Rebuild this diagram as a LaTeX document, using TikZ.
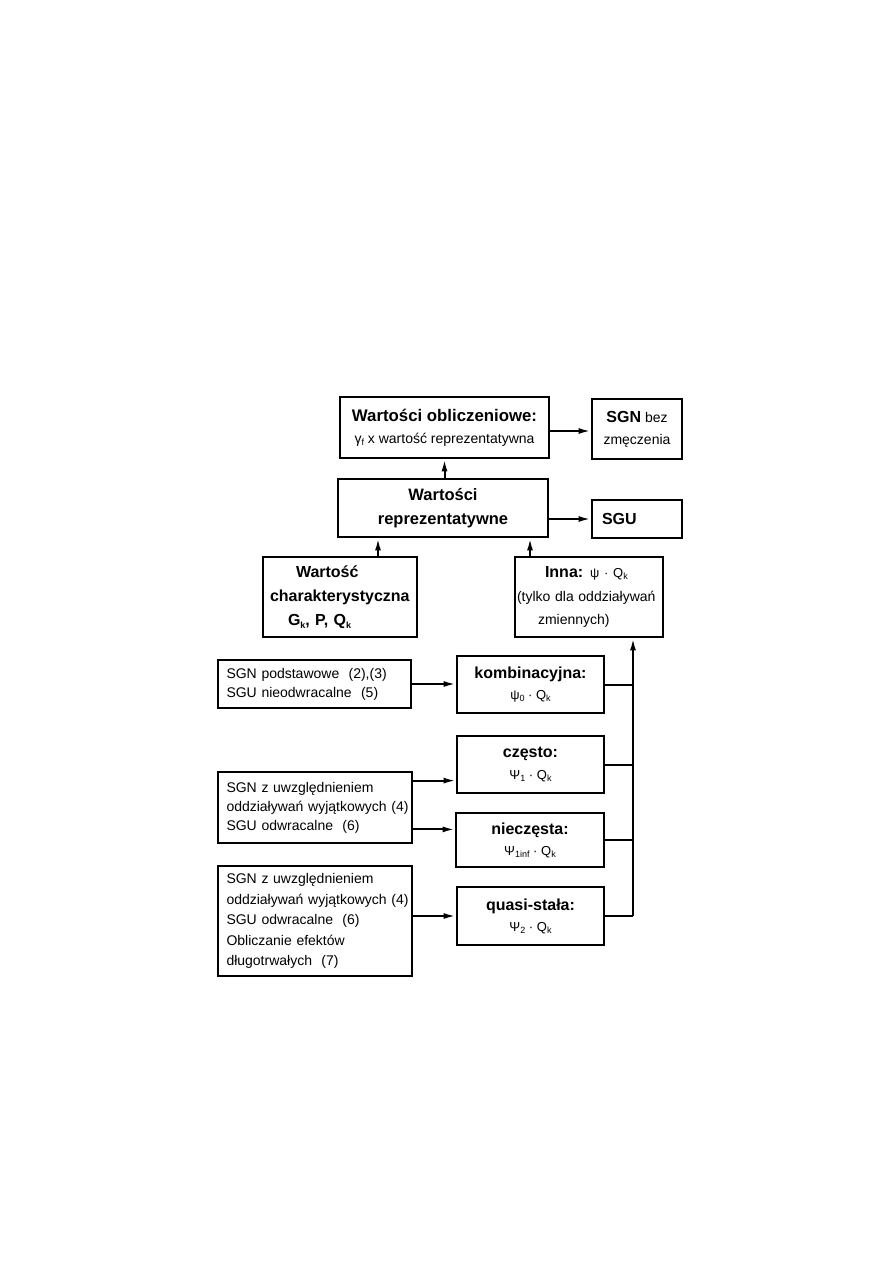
\documentclass[tikz,border=0pt]{standalone}
\usepackage{fontspec}
\setmainfont{Liberation Sans}
\usetikzlibrary{arrows.meta,calc}
\newcommand\hdfont{\bfseries\fontsize{16}{22}\selectfont}
\newcommand\lowidx[1]{\raisebox{-0.35ex}{\fontsize{9}{9}\selectfont #1}}
\newcommand\ind[1]{\hspace*{8pt}\mbox{#1}}
\tikzset{
  box/.style={draw, line width=2.8pt, inner sep=0pt},
  conn/.style={line width=2pt},
  arr/.style={conn, -{Latex[length=12pt,width=6pt]}},
}
\begin{document}
\begin{tikzpicture}[x=1pt,y=-1pt]
\useasboundingbox[fill=white] (0,0) rectangle (893,1263);
% top row
\node[box, minimum width=209pt, minimum height=61pt, align=center, font=\fontsize{14}{22}\selectfont] (A) at (444.5,427.5)
  {{\bfseries\fontsize{16.8}{22}\selectfont Wartości obliczeniowe:}\\γ\lowidx{f} x wartość reprezentatywna};
\node[box, minimum width=90pt, minimum height=60pt, align=center, font=\fontsize{14}{22}\selectfont] (SGN) at (637,429)
  {{\hdfont SGN} bez\\zmęczenia};
\node[box, minimum width=210pt, minimum height=58pt, align=center, font=\bfseries\fontsize{16.5}{24}\selectfont] (B) at (443,508)
  {Wartości\\reprezentatywne};
\node[box, minimum width=90pt, minimum height=38pt, text width=70pt, inner xsep=10pt, align=left, font=\bfseries\fontsize{16}{20}\selectfont] (SGU) at (637,519)
  {SGU};
\node[box, minimum width=154pt, minimum height=80pt, text width=140pt, inner xsep=7pt, align=left, font=\bfseries\fontsize{16}{24}\selectfont] (C) at (340,597)
  {\hspace*{26pt}Wartość\\charakterystyczna\\\hspace*{18pt}G\lowidx{k}, P, Q\lowidx{k}};
\node[box, minimum width=148pt, minimum height=80pt, text width=144pt, inner xsep=2pt, align=left, font=\fontsize{14}{23.5}\selectfont] (Inna) at (589,597)
  {\hspace*{28pt}{\hdfont Inna:} {\fontsize{13}{23.5}\selectfont ψ · Q\lowidx{k}}\\(tylko dla oddziaływań\\\hspace*{21pt}zmiennych)};
% left column
\node[box, minimum width=193pt, minimum height=48pt, text width=192pt, inner xsep=0.5pt, align=left, font=\fontsize{14}{19}\selectfont] (P) at (314.5,684)
  {\ind{SGN podstawowe\ \ (2),(3)}\\\ind{SGU nieodwracalne\ \ (5)}};
\node[box, minimum width=194pt, minimum height=71pt, text width=193pt, inner xsep=0.5pt, align=left, font=\fontsize{14}{19}\selectfont] (S1) at (315,807.5)
  {\ind{SGN z uwzględnieniem}\\\ind{oddziaływań wyjątkowych (4)}\\\ind{SGU odwracalne\ \ (6)}};
\node[box, minimum width=194pt, minimum height=110pt, text width=193pt, inner xsep=0.5pt, align=left, font=\fontsize{14}{20.5}\selectfont] (S2) at (315,921)
  {\ind{SGN z uwzględnieniem}\\\ind{oddziaływań wyjątkowych (4)}\\\ind{SGU odwracalne\ \ (6)}\\\ind{Obliczanie efektów}\\\ind{długotrwałych\ \ (7)}};
% right column
\node[box, minimum width=147pt, minimum height=57pt, align=center, font=\fontsize{13}{21}\selectfont] (K) at (530.5,684.5)
  {{\hdfont kombinacyjna:}\\ψ\lowidx{0} · Q\lowidx{k}};
\node[box, minimum width=147pt, minimum height=57pt, align=center, font=\fontsize{13}{21}\selectfont] (Cz) at (530.5,764.5)
  {{\hdfont często:}\\Ψ\lowidx{1} · Q\lowidx{k}};
\node[box, minimum width=148pt, minimum height=54pt, align=center, font=\fontsize{13}{21}\selectfont] (N) at (530,840)
  {{\hdfont nieczęsta:}\\Ψ\lowidx{1inf} · Q\lowidx{k}};
\node[box, minimum width=147pt, minimum height=58pt, align=center, font=\fontsize{13}{21}\selectfont] (Q) at (530.5,916)
  {{\hdfont quasi-stała:}\\Ψ\lowidx{2} · Q\lowidx{k}};
\coordinate (tx) at (633,0);
% connectors
\draw[arr] (B.north -| A.south) -- (A.south);
\draw[arr] ([yshift=-3.5pt]A.east) coordinate (a1) -- (SGN.west |- a1);
\draw[arr] (SGU.west -| B.east) -- (SGU.west);
\draw[arr] ([xshift=38pt]C.north) coordinate (c1) -- (B.south -| c1);
\draw[arr] ([xshift=-59pt]Inna.north) coordinate (i1) -- (B.south -| i1);
\draw[conn] (K.east) -- (K.east -| tx);
\draw[conn] (Cz.east) -- (Cz.east -| tx);
\draw[conn] (N.east) -- (N.east -| tx);
\draw[conn] (Q.east) -- (Q.east -| tx);
\draw[arr] (Q.east -| tx) -- (Inna.south -| tx);
\draw[arr] (P.east) -- (K.west |- P.east);
\draw[arr] ([yshift=-10pt]S1.north east) coordinate (s1a) -- (Cz.west |- s1a);
\draw[arr] ([yshift=15pt]S1.south east) coordinate (s1b) -- (N.west |- s1b);
\draw[arr] (Q.west -| S2.east) -- (Q.west);
\end{tikzpicture}
\end{document}
